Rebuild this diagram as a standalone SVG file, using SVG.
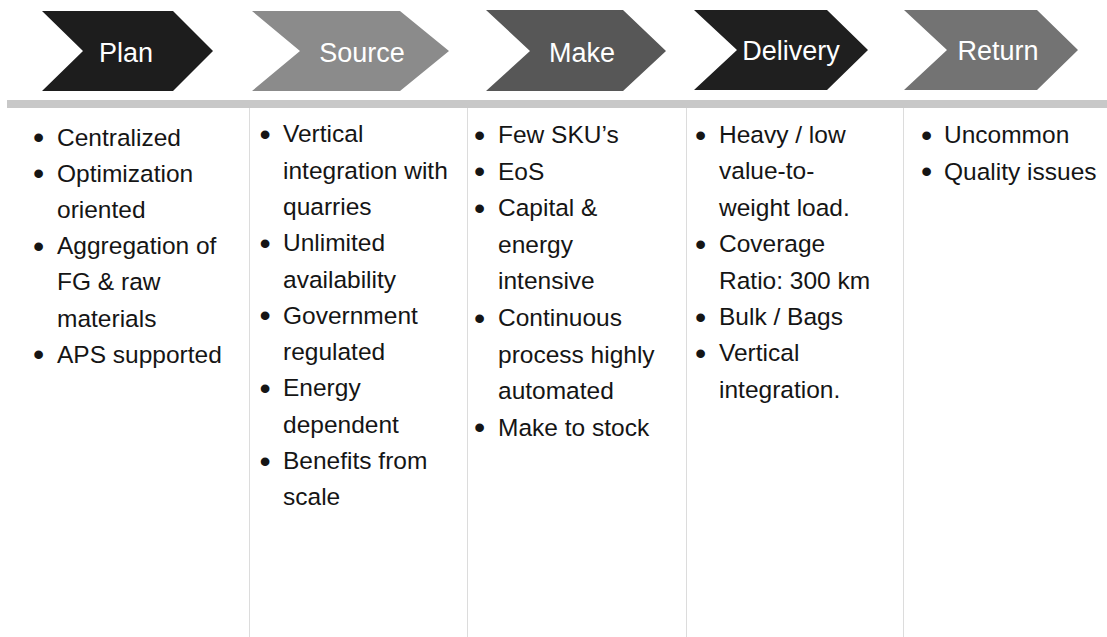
<svg xmlns="http://www.w3.org/2000/svg" width="1107" height="637" viewBox="0 0 1107 637">
<style>
.lbl{font-family:"Liberation Sans",Arial,sans-serif;font-size:27px;fill:#ffffff;text-anchor:middle}
.body{font-family:"Liberation Sans",Arial,sans-serif;font-size:24.5px;fill:#151515}
.b{font-size:32px}
.div{stroke:#dcdcdc;stroke-width:1}
</style>
<rect x="0" y="0" width="1107" height="637" fill="#ffffff"/>
<g id="connectors">
<rect x="7" y="100" width="1100" height="8" fill="#c8c8c8"/>
<line class="div" x1="249.5" y1="108" x2="249.5" y2="637"/>
<line class="div" x1="467.5" y1="108" x2="467.5" y2="637"/>
<line class="div" x1="686.5" y1="108" x2="686.5" y2="637"/>
<line class="div" x1="903.5" y1="108" x2="903.5" y2="637"/>
</g>
<g id="plan">
<polygon points="42,11 173,11 213,51 173,91 42,91 83,51" fill="#1d1d1d"/>
<text class="lbl" x="126" y="62">Plan</text>
<text class="body">
<tspan class="b" x="33" y="148">•</tspan><tspan x="57" y="145.5">Centralized</tspan>
<tspan class="b" x="33" y="184.2">•</tspan><tspan x="57" y="181.7">Optimization</tspan>
<tspan x="57" y="217.9">oriented</tspan>
<tspan class="b" x="33" y="256.6">•</tspan><tspan x="57" y="254.1">Aggregation of</tspan>
<tspan x="57" y="290.3">FG &amp; raw</tspan>
<tspan x="57" y="326.5">materials</tspan>
<tspan class="b" x="33" y="365.2">•</tspan><tspan x="57" y="362.7">APS supported</tspan>
</text>
</g>
<g id="source">
<polygon points="252,11 400,11 449,51 400,91 252,91 300,51" fill="#8b8b8b"/>
<text class="lbl" x="362" y="62">Source</text>
<text class="body">
<tspan class="b" x="259.5" y="144.8">•</tspan><tspan x="283" y="142.3">Vertical</tspan>
<tspan x="283" y="178.6">integration with</tspan>
<tspan x="283" y="214.9">quarries</tspan>
<tspan class="b" x="259.5" y="253.7">•</tspan><tspan x="283" y="251.2">Unlimited</tspan>
<tspan x="283" y="287.5">availability</tspan>
<tspan class="b" x="259.5" y="326.3">•</tspan><tspan x="283" y="323.8">Government</tspan>
<tspan x="283" y="360.1">regulated</tspan>
<tspan class="b" x="259.5" y="398.9">•</tspan><tspan x="283" y="396.4">Energy</tspan>
<tspan x="283" y="432.7">dependent</tspan>
<tspan class="b" x="259.5" y="471.5">•</tspan><tspan x="283" y="469">Benefits from</tspan>
<tspan x="283" y="505.3">scale</tspan>
</text>
</g>
<g id="make">
<polygon points="486,10 623,10 666,51 623,91 486,91 530,51" fill="#575757"/>
<text class="lbl" x="582" y="62">Make</text>
<text class="body">
<tspan class="b" x="474" y="145.5">•</tspan><tspan x="498" y="143">Few SKU’s</tspan>
<tspan class="b" x="474" y="182.1">•</tspan><tspan x="498" y="179.6">EoS</tspan>
<tspan class="b" x="474" y="218.7">•</tspan><tspan x="498" y="216.2">Capital &amp;</tspan>
<tspan x="498" y="252.8">energy</tspan>
<tspan x="498" y="289.4">intensive</tspan>
<tspan class="b" x="474" y="328.5">•</tspan><tspan x="498" y="326">Continuous</tspan>
<tspan x="498" y="362.6">process highly</tspan>
<tspan x="498" y="399.2">automated</tspan>
<tspan class="b" x="474" y="438.3">•</tspan><tspan x="498" y="435.8">Make to stock</tspan>
</text>
</g>
<g id="delivery">
<polygon points="694,10 827,10 868,50 827,90 694,90 737,50" fill="#1f1f1f"/>
<text class="lbl" x="791" y="60">Delivery</text>
<text class="body">
<tspan class="b" x="695" y="145.5">•</tspan><tspan x="719" y="143">Heavy / low</tspan>
<tspan x="719" y="179.4">value-to-</tspan>
<tspan x="719" y="215.8">weight load.</tspan>
<tspan class="b" x="695" y="254.7">•</tspan><tspan x="719" y="252.2">Coverage</tspan>
<tspan x="719" y="288.6">Ratio: 300 km</tspan>
<tspan class="b" x="695" y="327.5">•</tspan><tspan x="719" y="325">Bulk / Bags</tspan>
<tspan class="b" x="695" y="363.9">•</tspan><tspan x="719" y="361.4">Vertical</tspan>
<tspan x="719" y="397.8">integration.</tspan>
</text>
</g>
<g id="return">
<polygon points="904,10 1037,10 1078,50 1037,90 904,90 947,50" fill="#737373"/>
<text class="lbl" x="998" y="60">Return</text>
<text class="body">
<tspan class="b" x="921" y="145.5">•</tspan><tspan x="944" y="143">Uncommon</tspan>
<tspan class="b" x="921" y="182.1">•</tspan><tspan x="944" y="179.6">Quality issues</tspan>
</text>
</g>
</svg>
